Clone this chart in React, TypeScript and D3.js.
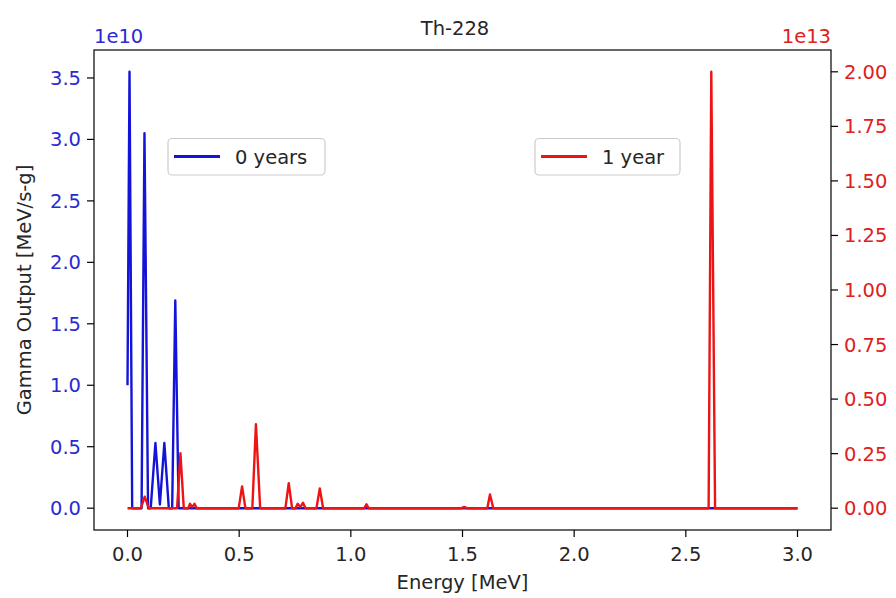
import React from "react";
import * as d3 from "d3";

// ---- data ----
const title = "Th-228";
const xLabel = "Energy [MeV]";
const yLabel = "Gamma Output [MeV/s-g]";
const seriesNames = ["0 years", "1 year"];

// 0 years (left axis, MeV/s-g)
const blueEnergy = [0, 0.009, 0.021, 0.063, 0.076, 0.092, 0.104, 0.125, 0.145, 0.165, 0.185, 0.2, 0.214, 0.229, 3.0];
const blueOutput = [1.0e10, 3.55e10, 0, 0, 3.05e10, 0, 0, 0.53e10, 0.03e10, 0.53e10, 0, 0, 1.69e10, 0, 0];

// 1 year (right axis, MeV/s-g)
const redEnergy = [
  0, 0.06, 0.077, 0.095, 0.222, 0.237, 0.252, 0.272, 0.28, 0.29, 0.3, 0.31,
  0.498, 0.513, 0.528, 0.559, 0.575, 0.594, 0.707, 0.722, 0.737, 0.752, 0.762,
  0.774, 0.786, 0.797, 0.846, 0.861, 0.876, 1.06, 1.07, 1.08, 1.495, 1.508, 1.52,
  1.611, 1.623, 1.638, 2.602, 2.614, 2.631, 3.0,
];
const redOutput = [
  0, 0, 0.053e13, 0, 0, 0.252e13, 0, 0, 0.02e13, 0.005e13, 0.02e13, 0,
  0, 0.1e13, 0, 0, 0.385e13, 0, 0, 0.115e13, 0, 0, 0.02e13,
  0.005e13, 0.025e13, 0, 0, 0.09e13, 0, 0, 0.018e13, 0, 0, 0.006e13, 0,
  0, 0.063e13, 0, 0, 2.0e13, 0, 0,
];

const xTicks = [0, 0.5, 1.0, 1.5, 2.0, 2.5, 3.0];
const leftTicks = [0, 0.5, 1.0, 1.5, 2.0, 2.5, 3.0, 3.5];
const rightTicks = [0, 0.25, 0.5, 0.75, 1.0, 1.25, 1.5, 1.75, 2.0];

// ---- layout ----
const W = 896, H = 598;
const L = 94, R = 831, T = 50, B = 530;
const FONT = "DejaVu Sans, sans-serif";
const FS = 19.5;
const BLUE = "#1414d8";
const RED = "#ec1414";
const BLUE_TXT = "#2a2ad0";
const RED_TXT = "#e02020";
const TEXT = "#262626";
const LW = 2.4;

export default function App() {
  const x = d3.scaleLinear().domain([-0.15, 3.15]).range([L, R]);
  const leftMax = 3.55e10;
  const yL = d3.scaleLinear().domain([-0.05 * leftMax, 1.05 * leftMax]).range([B, T]);
  const yR = d3.scaleLinear().domain([-0.1e13, 2.1e13]).range([B, T]);

  const blueLine = d3.line<number>()
    .x((_, i) => x(blueEnergy[i]))
    .y((d) => yL(d))(blueOutput) || "";
  const redLine = d3.line<number>()
    .x((_, i) => x(redEnergy[i]))
    .y((d) => yR(d))(redOutput) || "";

  const tickLen = 7;
  const legends = [
    { x0: 168, x1: 325, color: BLUE, label: seriesNames[0] },
    { x0: 535, x1: 680, color: RED, label: seriesNames[1] },
  ];

  const legendBox = (lg: { x0: number; x1: number; color: string; label: string }) => (
    <g key={lg.label}>
      <rect x={lg.x0} y={138.5} width={lg.x1 - lg.x0} height={36.5} rx={4} fill="#fff" fillOpacity={0.8} stroke="#cccccc" strokeWidth={1.2} />
      <line x1={lg.x0 + 6} x2={lg.x0 + 52} y1={156.5} y2={156.5} stroke={lg.color} strokeWidth={LW + 0.4} />
      <text x={lg.x0 + 67} y={163.5} fontSize={FS} fill={TEXT}>{lg.label}</text>
    </g>
  );

  return (
    <svg width={W} height={H} style={{ position: "absolute", left: 0, top: 0, background: "#fff" }} fontFamily={FONT}>
      <rect x={0} y={0} width={W} height={H} fill="#fff" />
      <defs>
        <clipPath id="plotclip">
          <rect x={L} y={T} width={R - L} height={B - T} />
        </clipPath>
      </defs>

      <g clipPath="url(#plotclip)">
        <path d={blueLine} fill="none" stroke={BLUE} strokeWidth={LW} strokeLinejoin="round" />
      </g>

      {legends.slice(0, 1).map(legendBox)}

      <g clipPath="url(#plotclip)">
        <path d={redLine} fill="none" stroke={RED} strokeWidth={LW} strokeLinejoin="round" />
      </g>

      {legends.slice(1).map(legendBox)}

      {/* frame */}
      <rect x={L} y={T} width={R - L} height={B - T} fill="none" stroke="#000" strokeWidth={1.2} />

      {/* x axis */}
      {xTicks.map((t) => (
        <g key={"x" + t}>
          <line x1={x(t)} x2={x(t)} y1={B} y2={B + tickLen} stroke="#000" strokeWidth={1.2} />
          <text x={x(t)} y={561} fontSize={FS} textAnchor="middle" fill={TEXT}>{t.toFixed(1)}</text>
        </g>
      ))}
      <text x={(L + R) / 2} y={589} fontSize={FS} textAnchor="middle" fill={TEXT}>{xLabel}</text>

      {/* left axis */}
      {leftTicks.map((t) => (
        <g key={"l" + t}>
          <line x1={L - tickLen} x2={L} y1={yL(t * 1e10)} y2={yL(t * 1e10)} stroke="#000" strokeWidth={1.2} />
          <text x={L - tickLen - 6} y={yL(t * 1e10) + 7} fontSize={FS} textAnchor="end" fill={BLUE_TXT}>{t.toFixed(1)}</text>
        </g>
      ))}
      <text x={L} y={43} fontSize={FS} fill={BLUE_TXT}>1e10</text>
      <text transform={`translate(31,${(T + B) / 2}) rotate(-90)`} fontSize={FS} textAnchor="middle" fill={TEXT}>{yLabel}</text>

      {/* right axis */}
      {rightTicks.map((t) => (
        <g key={"r" + t}>
          <line x1={R} x2={R + tickLen} y1={yR(t * 1e13)} y2={yR(t * 1e13)} stroke="#000" strokeWidth={1.2} />
          <text x={R + tickLen + 6} y={yR(t * 1e13) + 7} fontSize={FS} textAnchor="start" fill={RED_TXT}>{t.toFixed(2)}</text>
        </g>
      ))}
      <text x={R} y={43} fontSize={FS} textAnchor="end" fill={RED_TXT}>1e13</text>

      {/* title */}
      <text x={455} y={35} fontSize={FS} textAnchor="middle" fill={TEXT}>{title}</text>
    </svg>
  );
}
